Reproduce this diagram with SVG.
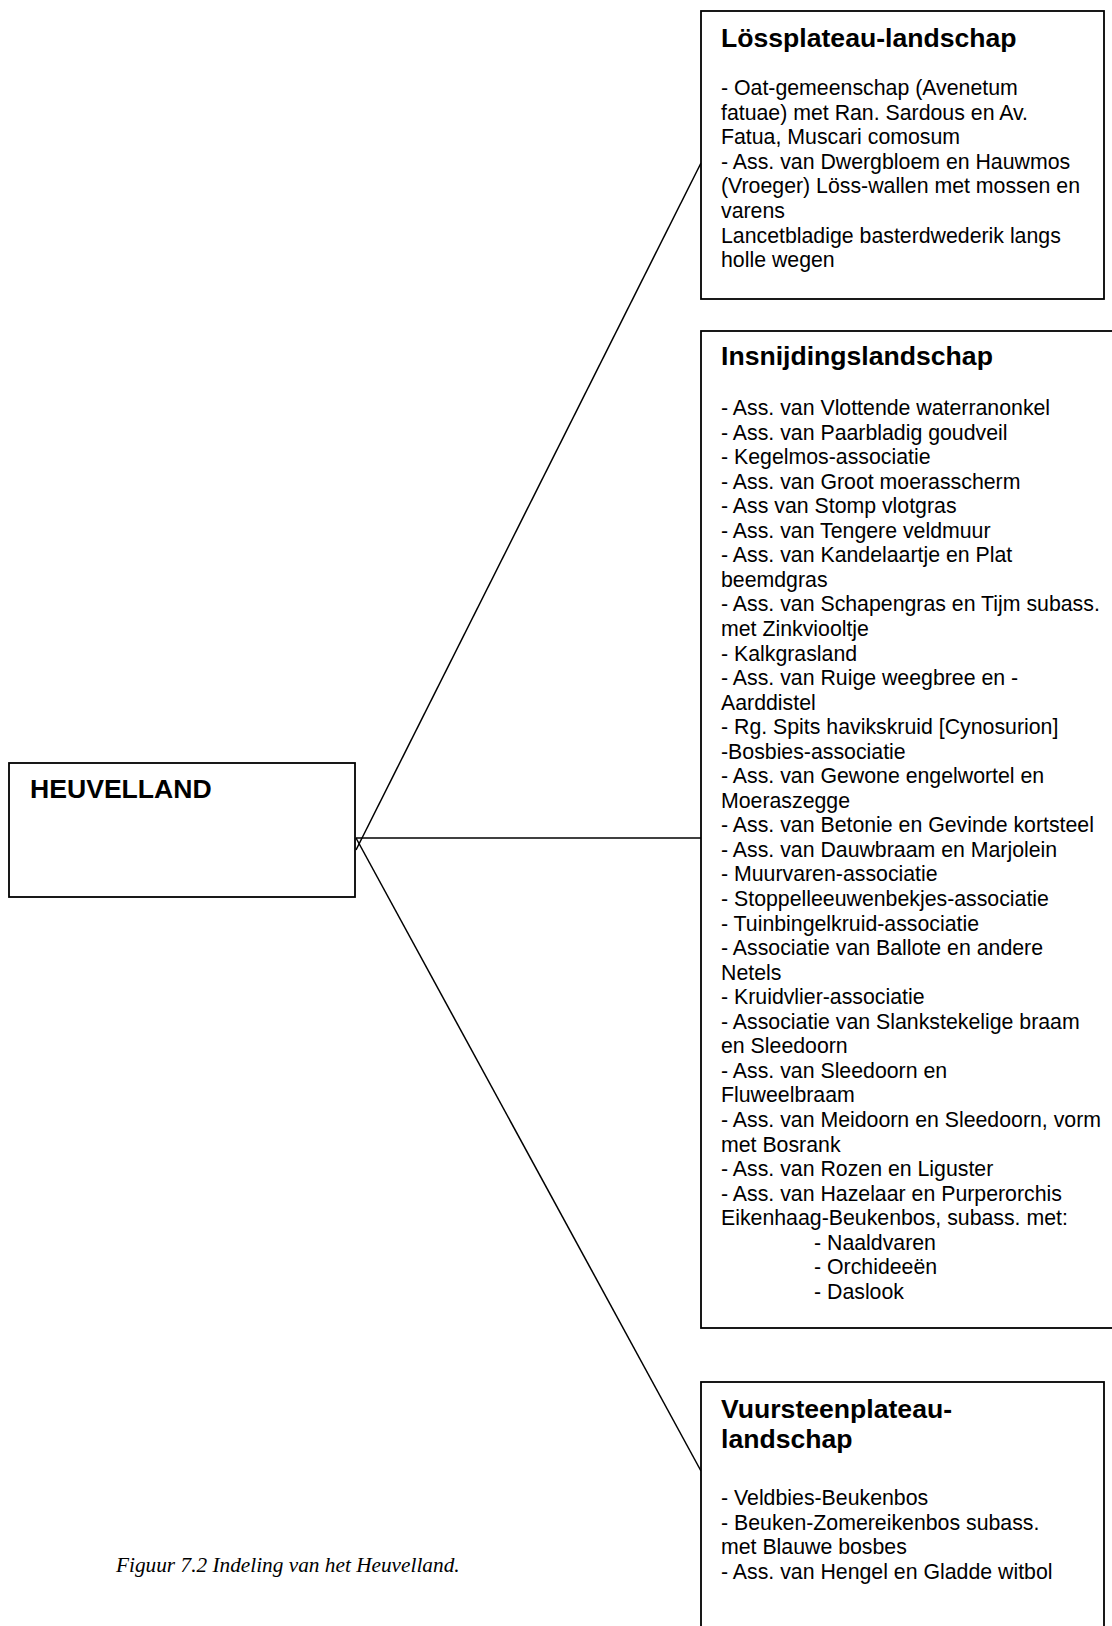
<svg xmlns="http://www.w3.org/2000/svg" width="1112" height="1626" viewBox="0 0 1112 1626">
  <style>
    .box { fill: #ffffff; stroke: #000000; stroke-width: 1.8; }
    .link { fill: none; stroke: #000000; stroke-width: 1.5; }
    .title { font-family: "Liberation Sans", Arial, sans-serif; font-weight: bold; font-size: 26.6px; fill: #000000; }
    .body { font-family: "Liberation Sans", Arial, sans-serif; font-size: 21.3px; fill: #000000; }
    .caption { font-family: "Liberation Serif", "Times New Roman", serif; font-style: italic; font-size: 21.3px; fill: #000000; }
  </style>
  <rect width="1112" height="1626" fill="#ffffff"/>

  <!-- connectors from the root box to the three landscapes -->
  <g id="connectors">
    <line class="link" x1="356" y1="838" x2="701" y2="838"/>
    <line class="link" x1="356" y1="850" x2="701" y2="163"/>
    <line class="link" x1="356" y1="838" x2="701" y2="1471"/>
  </g>

  <g id="heuvelland">
    <rect class="box" x="9" y="763" width="346" height="134"/>
    <text class="title" x="30" y="798">HEUVELLAND</text>
  </g>

  <g id="loessplateau">
    <rect class="box" x="701" y="11" width="403" height="288"/>
    <text class="title" x="721" y="47">Lössplateau-landschap</text>
    <text class="body">
      <tspan x="721" y="95">- Oat-gemeenschap (Avenetum</tspan>
      <tspan x="721" y="119.6">fatuae) met Ran. Sardous en Av.</tspan>
      <tspan x="721" y="144.2">Fatua, Muscari comosum</tspan>
      <tspan x="721" y="168.8">- Ass. van Dwergbloem en Hauwmos</tspan>
      <tspan x="721" y="193.4">(Vroeger) Löss-wallen met mossen en</tspan>
      <tspan x="721" y="218">varens</tspan>
      <tspan x="721" y="242.6">Lancetbladige basterdwederik langs</tspan>
      <tspan x="721" y="267.2">holle wegen</tspan>
    </text>
  </g>

  <g id="insnijding">
    <rect class="box" x="701" y="331" width="430" height="997"/>
    <text class="title" x="721" y="365">Insnijdingslandschap</text>
    <text class="body">
      <tspan x="721" y="415">- Ass. van Vlottende waterranonkel</tspan>
      <tspan x="721" y="439.55">- Ass. van Paarbladig goudveil</tspan>
      <tspan x="721" y="464.1">- Kegelmos-associatie</tspan>
      <tspan x="721" y="488.65">- Ass. van Groot moerasscherm</tspan>
      <tspan x="721" y="513.2">- Ass van Stomp vlotgras</tspan>
      <tspan x="721" y="537.75">- Ass. van Tengere veldmuur</tspan>
      <tspan x="721" y="562.3">- Ass. van Kandelaartje en Plat</tspan>
      <tspan x="721" y="586.85">beemdgras</tspan>
      <tspan x="721" y="611.4">- Ass. van Schapengras en Tijm subass.</tspan>
      <tspan x="721" y="635.95">met Zinkviooltje</tspan>
      <tspan x="721" y="660.5">- Kalkgrasland</tspan>
      <tspan x="721" y="685.05">- Ass. van Ruige weegbree en -</tspan>
      <tspan x="721" y="709.6">Aarddistel</tspan>
      <tspan x="721" y="734.15">- Rg. Spits havikskruid [Cynosurion]</tspan>
      <tspan x="721" y="758.7">-Bosbies-associatie</tspan>
      <tspan x="721" y="783.25">- Ass. van Gewone engelwortel en</tspan>
      <tspan x="721" y="807.8">Moeraszegge</tspan>
      <tspan x="721" y="832.35">- Ass. van Betonie en Gevinde kortsteel</tspan>
      <tspan x="721" y="856.9">- Ass. van Dauwbraam en Marjolein</tspan>
      <tspan x="721" y="881.45">- Muurvaren-associatie</tspan>
      <tspan x="721" y="906">- Stoppelleeuwenbekjes-associatie</tspan>
      <tspan x="721" y="930.55">- Tuinbingelkruid-associatie</tspan>
      <tspan x="721" y="955.1">- Associatie van Ballote en andere</tspan>
      <tspan x="721" y="979.65">Netels</tspan>
      <tspan x="721" y="1004.2">- Kruidvlier-associatie</tspan>
      <tspan x="721" y="1028.75">- Associatie van Slankstekelige braam</tspan>
      <tspan x="721" y="1053.3">en Sleedoorn</tspan>
      <tspan x="721" y="1077.85">- Ass. van Sleedoorn en</tspan>
      <tspan x="721" y="1102.4">Fluweelbraam</tspan>
      <tspan x="721" y="1126.95">- Ass. van Meidoorn en Sleedoorn, vorm</tspan>
      <tspan x="721" y="1151.5">met Bosrank</tspan>
      <tspan x="721" y="1176.05">- Ass. van Rozen en Liguster</tspan>
      <tspan x="721" y="1200.6">- Ass. van Hazelaar en Purperorchis</tspan>
      <tspan x="721" y="1225.15">Eikenhaag-Beukenbos, subass. met:</tspan>
      <tspan x="814" y="1249.7">- Naaldvaren</tspan>
      <tspan x="814" y="1274.25">- Orchideeën</tspan>
      <tspan x="814" y="1298.8">- Daslook</tspan>
    </text>
  </g>

  <g id="vuursteenplateau">
    <rect class="box" x="701" y="1382" width="403" height="260"/>
    <text class="title">
      <tspan x="721" y="1418">Vuursteenplateau-</tspan>
      <tspan x="721" y="1448">landschap</tspan>
    </text>
    <text class="body">
      <tspan x="721" y="1505">- Veldbies-Beukenbos</tspan>
      <tspan x="721" y="1529.5">- Beuken-Zomereikenbos subass.</tspan>
      <tspan x="721" y="1554">met Blauwe bosbes</tspan>
      <tspan x="721" y="1578.5">- Ass. van Hengel en Gladde witbol</tspan>
    </text>
  </g>

  <text class="caption" x="116" y="1572">Figuur 7.2 Indeling van het Heuvelland.</text>
</svg>
